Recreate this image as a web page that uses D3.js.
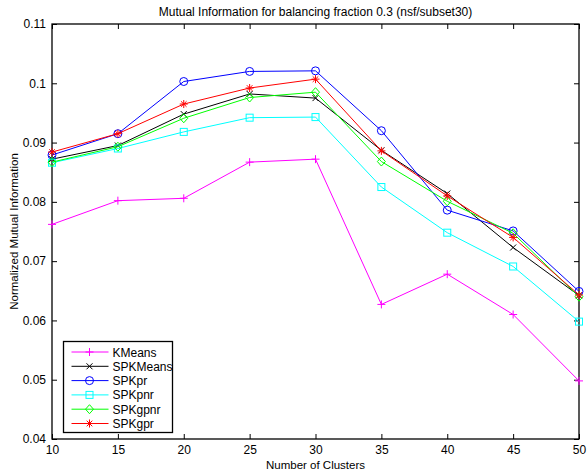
<!DOCTYPE html>
<html>
<head>
<meta charset="utf-8">
<script src="https://cdn.jsdelivr.net/npm/d3@7"></script>
<style>
  body { margin: 0; background: #fff; }
  text { font-family: "Liberation Sans", Arial, sans-serif; fill: #000; }
</style>
</head>
<body>
<script>
// cluster counts on the x axis
const clusters = [10, 15, 20, 25, 30, 35, 40, 45, 50];

// normalized mutual information, one array per method
const kmeans    = [0.0762, 0.0802, 0.0806, 0.0867, 0.0872, 0.0627, 0.0678, 0.0610, 0.0498];
const spkmeans  = [0.0872, 0.0895, 0.0948, 0.0982, 0.0975, 0.0887, 0.0814, 0.0723, 0.0642];
const spkpr     = [0.0879, 0.0915, 0.1003, 0.1020, 0.1021, 0.0920, 0.0786, 0.0751, 0.0649];
const spkpnr    = [0.0866, 0.0890, 0.0918, 0.0942, 0.0943, 0.0825, 0.0748, 0.0691, 0.0598];
const spkgpnr   = [0.0867, 0.0893, 0.0941, 0.0976, 0.0985, 0.0868, 0.0801, 0.0747, 0.0640];
const spkgpr    = [0.0884, 0.0915, 0.0965, 0.0992, 0.1007, 0.0886, 0.0810, 0.0740, 0.0643];

const names   = ["KMeans", "SPKMeans", "SPKpr", "SPKpnr", "SPKgpnr", "SPKgpr"];
const colors  = ["#ff00ff", "#000000", "#0000ff", "#00ffff", "#00ff00", "#ff0000"];
const markers = ["plus", "cross", "circle", "square", "diamond", "star"];
const values  = [kmeans, spkmeans, spkpr, spkpnr, spkgpnr, spkgpr];

const xTicks = [10, 15, 20, 25, 30, 35, 40, 45, 50];
const yTicks = [0.04, 0.05, 0.06, 0.07, 0.08, 0.09, 0.1, 0.11];

const series = names.map((n, i) => ({
    name: n, color: colors[i], marker: markers[i],
    points: clusters.map((c, j) => ({x: c, y: values[i][j]}))
}));

let width = 587, height = 476;
let margin = {top: 24, right: 8, bottom: 37, left: 52};

let svg = d3.select("body").append("svg")
    .attr("width", width)
    .attr("height", height);

let x = d3.scaleLinear().domain([10, 50]).range([margin.left, width - margin.right]);
let y = d3.scaleLinear().domain([0.04, 0.11]).range([height - margin.bottom, margin.top]);

// ticks pointing inward, on all four sides
const tk = 5;
let fmt = d => d3.format("")(+d.toFixed(2));

let axB = svg.append("g")
    .attr("transform", "translate(0," + y(0.04) + ")")
    .call(d3.axisBottom(x).tickValues(xTicks).tickSizeInner(-tk).tickSizeOuter(0).tickPadding(6));
let axT = svg.append("g")
    .attr("transform", "translate(0," + y(0.11) + ")")
    .call(d3.axisTop(x).tickValues(xTicks).tickSizeInner(-tk).tickSizeOuter(0).tickFormat(""));
let axL = svg.append("g")
    .attr("transform", "translate(" + x(10) + ",0)")
    .call(d3.axisLeft(y).tickValues(yTicks).tickSizeInner(-tk).tickSizeOuter(0).tickPadding(6).tickFormat(fmt));
let axR = svg.append("g")
    .attr("transform", "translate(" + x(50) + ",0)")
    .call(d3.axisRight(y).tickValues(yTicks).tickSizeInner(-tk).tickSizeOuter(0).tickFormat(""));

[axB, axT, axL, axR].forEach(a => {
    a.selectAll(".domain").remove();
    a.selectAll("line").attr("stroke", "#000");
    a.selectAll("text").attr("font-size", 12).attr("font-family", "Liberation Sans, Arial, sans-serif");
});

svg.append("rect")
    .attr("x", x(10)).attr("y", y(0.11))
    .attr("width", x(50) - x(10)).attr("height", y(0.04) - y(0.11))
    .attr("fill", "none").attr("stroke", "#000").attr("stroke-width", 1.3);

// marker drawing
function drawMarker(g, type, color) {
    let s = 4;
    if (type === "plus") {
        g.append("path").attr("d", `M${-s},0H${s}M0,${-s}V${s}`).attr("stroke", color);
    } else if (type === "cross") {
        let c = 3;
        g.append("path").attr("d", `M${-c},${-c}L${c},${c}M${-c},${c}L${c},${-c}`).attr("stroke", color);
    } else if (type === "circle") {
        g.append("circle").attr("r", 4).attr("fill", "none").attr("stroke", color);
    } else if (type === "square") {
        g.append("rect").attr("x", -3.5).attr("y", -3.5).attr("width", 7).attr("height", 7)
            .attr("fill", "none").attr("stroke", color);
    } else if (type === "diamond") {
        g.append("path").attr("d", "M0,-4.5L4,0L0,4.5L-4,0Z").attr("fill", "none").attr("stroke", color);
    } else if (type === "star") {
        let c = 2.8;
        g.append("path")
            .attr("d", `M${-s},0H${s}M0,${-s}V${s}M${-c},${-c}L${c},${c}M${-c},${c}L${c},${-c}`)
            .attr("stroke", color);
    }
}

let line = d3.line().x(d => x(d.x)).y(d => y(d.y));

series.forEach(s => {
    let g = svg.append("g");
    g.append("path")
        .datum(s.points)
        .attr("d", line)
        .attr("fill", "none")
        .attr("stroke", s.color)
        .attr("stroke-width", 1);
    g.selectAll("g.m")
        .data(s.points)
        .join("g")
        .attr("class", "m")
        .attr("transform", d => "translate(" + x(d.x) + "," + y(d.y) + ")")
        .each(function () { drawMarker(d3.select(this), s.marker, s.color); });
});

// legend
let lg = svg.append("g").attr("transform", "translate(63.5,341.5)");
lg.append("rect")
    .attr("width", 109).attr("height", 91)
    .attr("fill", "#fff").attr("stroke", "#000").attr("stroke-width", 1.3);
series.forEach((s, i) => {
    let row = lg.append("g").attr("transform", "translate(0," + (10.5 + i * 14.3) + ")");
    row.append("line").attr("x1", 8).attr("x2", 45).attr("stroke", s.color);
    let m = row.append("g").attr("transform", "translate(26,0)");
    drawMarker(m, s.marker, s.color);
    row.append("text").attr("x", 49).attr("y", 4.5).attr("font-size", 12).text(s.name);
});

// titles
svg.append("text")
    .attr("x", (x(10) + x(50)) / 2).attr("y", 16)
    .attr("text-anchor", "middle").attr("font-size", 12)
    .text("Mutual Information for balancing fraction 0.3 (nsf/subset30)");
svg.append("text")
    .attr("x", (x(10) + x(50)) / 2).attr("y", 469)
    .attr("text-anchor", "middle").attr("font-size", 11.5)
    .text("Number of Clusters");
svg.append("text")
    .attr("transform", "translate(18," + (y(0.075)) + ") rotate(-90)")
    .attr("text-anchor", "middle").attr("font-size", 11.5)
    .text("Normalized Mutual Information");
</script>
</body>
</html>
